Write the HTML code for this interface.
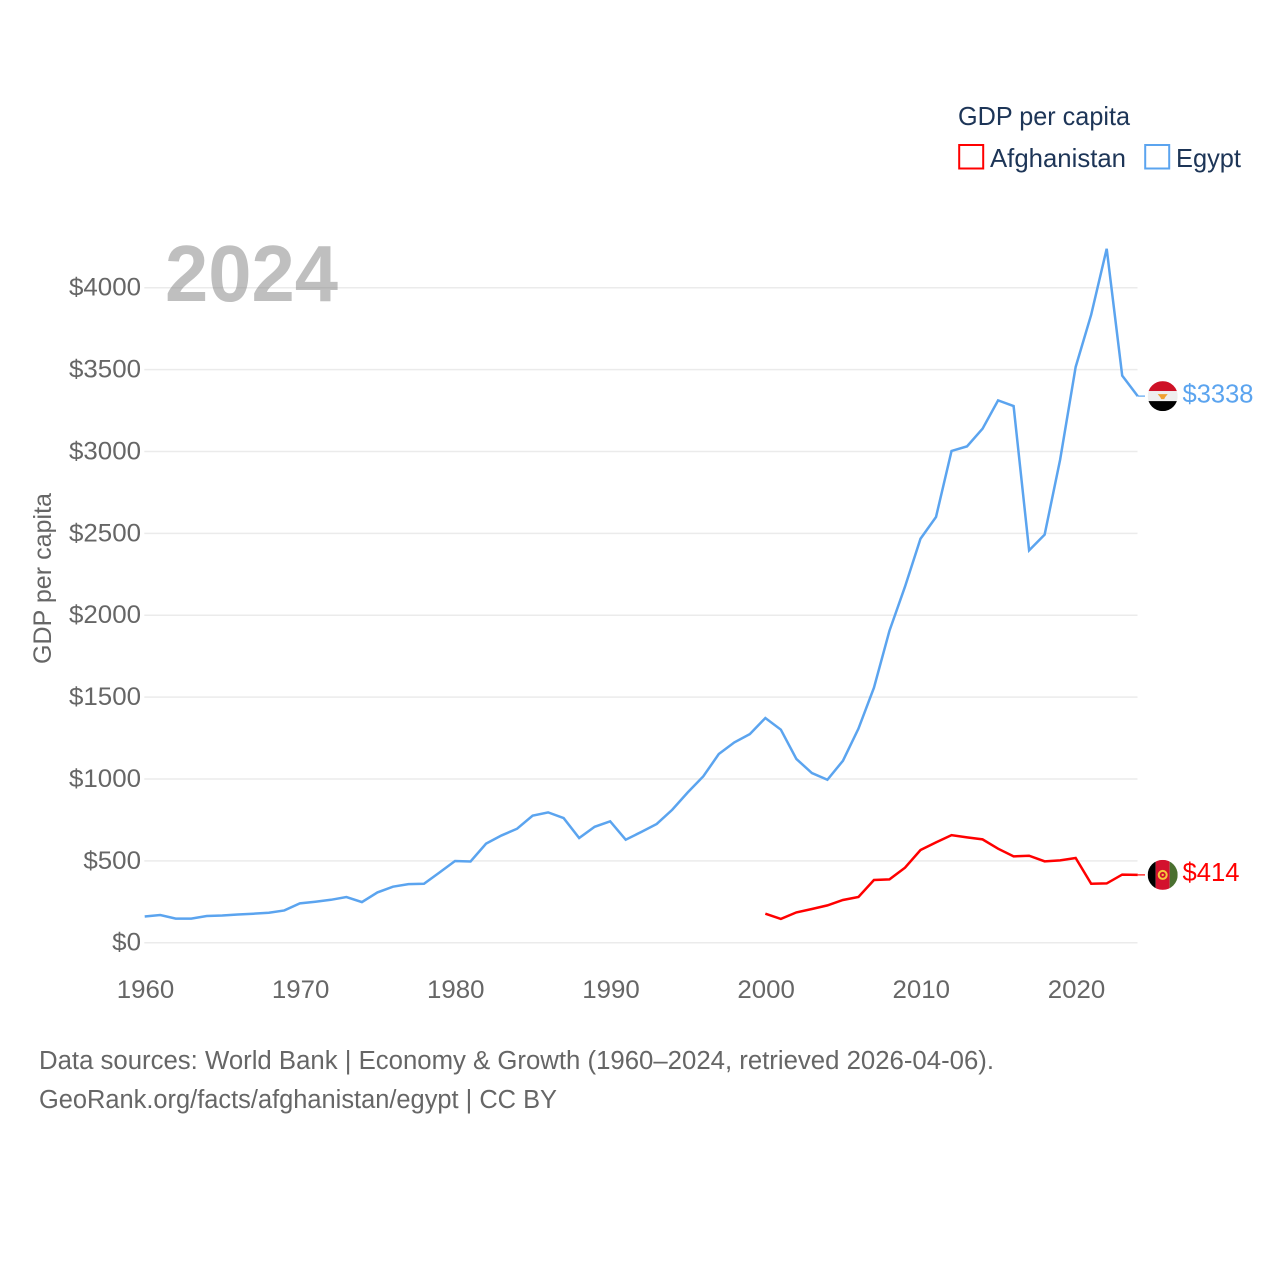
<!DOCTYPE html>
<html lang="en">
<head>
<meta charset="utf-8">
<title>GDP per capita: Afghanistan and Egypt</title>
<style>
html,body{margin:0;padding:0;background:#fff;}
svg{display:block;font-family:"Liberation Sans",sans-serif;}
</style>
</head>
<body>
<svg id="chart" xmlns="http://www.w3.org/2000/svg" width="1280" height="1280" viewBox="0 0 1280 1280">
  <defs>
    <clipPath id="flag-clip"><circle cx="0" cy="0" r="15"/></clipPath>
  </defs>
  <rect x="0" y="0" width="1280" height="1280" fill="#fff"/>
  <g id="grid"></g>
  <g id="y-ticks"></g>
  <g id="x-ticks"></g>
  <text transform="translate(51 664) rotate(-90)" font-size="25" fill="#666" textLength="171" lengthAdjust="spacingAndGlyphs">GDP per capita</text>
  <text x="165" y="301" font-size="80" font-weight="700" fill="#808080" fill-opacity="0.5" textLength="173" lengthAdjust="spacingAndGlyphs">2024</text>
  <g id="series"></g>
  <g id="end-labels"></g>

  <g>
    <text x="958" y="125" font-size="26" fill="#1d3557" textLength="172" lengthAdjust="spacingAndGlyphs">GDP per capita</text>
    <g>
      <rect x="959.2" y="145" width="24" height="23.5" fill="none" stroke="#ff0000" stroke-width="2"/>
      <text x="990" y="167" font-size="26" fill="#1d3557" textLength="136" lengthAdjust="spacingAndGlyphs">Afghanistan</text>
    </g>
    <g>
      <rect x="1145.2" y="145" width="24" height="23.5" fill="none" stroke="#5ba4ef" stroke-width="2"/>
      <text x="1176" y="167" font-size="26" fill="#1d3557" textLength="65" lengthAdjust="spacingAndGlyphs">Egypt</text>
    </g>
  </g>

  <text x="39" y="1069" font-size="25.5" fill="#666" textLength="955" lengthAdjust="spacingAndGlyphs">Data sources: World Bank | Economy &amp; Growth (1960–2024, retrieved 2026-04-06).</text>
  <text x="39" y="1108" font-size="25.5" fill="#666" textLength="518" lengthAdjust="spacingAndGlyphs">GeoRank.org/facts/afghanistan/egypt | CC BY</text>
</svg>
<script>
const yTickValues = [0, 500, 1000, 1500, 2000, 2500, 3000, 3500, 4000];
const xTickYears = [1960, 1970, 1980, 1990, 2000, 2010, 2020];
const egyptStartYear = 1960;
const egyptValues = [160,169,147,147,163,166,172,177,183,197,240,250,262,279,248,307,342,358,360,429,499,496,605,655,696,776,796,761,639,708,741,629,676,725,812,918,1016,1152,1223,1274,1372,1301,1122,1036,995,1111,1307,1557,1905,2174,2467,2600,3003,3031,3139,3312,3277,2396,2492,2950,3516,3835,4238,3463,3338];
const afghanStartYear = 2000;
const afghanValues = [177,145,185,206,228,261,279,383,387,458,566,613,657,643,631,574,527,531,497,503,517,360,362,416,414];

const NS = 'http://www.w3.org/2000/svg';
const xScale = function (year) { return 144.7 + (year - 1960) * 15.516; };
const yScale = function (value) { return 942.7 - value * 0.16375; };
const byId = function (id) { return document.getElementById(id); };

function make(tag, attrs) {
  const el = document.createElementNS(NS, tag);
  Object.keys(attrs).forEach(function (k) { el.setAttribute(k, attrs[k]); });
  return el;
}

yTickValues.forEach(function (v) {
  const line = make('line', {x1: 144.3, x2: 1137.5, y1: yScale(v), y2: yScale(v), stroke: '#ebebeb', 'stroke-width': 1.5});
  
  
  byId('grid').appendChild(line);

  const label = '$' + v;
  const t = make('text', {x: 141, y: yScale(v) + 8, 'text-anchor': 'end', 'font-size': 25, fill: '#666', textLength: label.length * 14.4, lengthAdjust: 'spacingAndGlyphs'});
  
  
  t.textContent = label;
  byId('y-ticks').appendChild(t);
});

xTickYears.forEach(function (year) {
  const t = make('text', {x: xScale(year) + 0.8, y: 998, 'text-anchor': 'middle', 'font-size': 25, fill: '#666', textLength: 57.5, lengthAdjust: 'spacingAndGlyphs'});
  
  
  t.textContent = String(year);
  byId('x-ticks').appendChild(t);
});

function seriesPoints(startYear, values) {
  return values.map(function (v, i) {
    return xScale(startYear + i).toFixed(2) + ',' + yScale(v).toFixed(2);
  }).join(' ');
}

const egyptLine = make('polyline', {points: seriesPoints(egyptStartYear, egyptValues), fill: 'none', stroke: '#5ba4ef', 'stroke-width': 2.5, 'stroke-linejoin': 'miter'});


byId('series').appendChild(egyptLine);

const afghanLine = make('polyline', {points: seriesPoints(afghanStartYear, afghanValues), fill: 'none', stroke: '#ff0000', 'stroke-width': 2.5, 'stroke-linejoin': 'miter'});


byId('series').appendChild(afghanLine);

const endX = xScale(2024);
const egyptEndY = yScale(egyptValues[egyptValues.length - 1]);
const afghanEndY = yScale(afghanValues[afghanValues.length - 1]);

const egyptConnector = make('line', {x1: endX, x2: 1145, y1: egyptEndY, y2: egyptEndY, stroke: '#5ba4ef', 'stroke-width': 1.2});


byId('end-labels').appendChild(egyptConnector);

const afghanConnector = make('line', {x1: endX, x2: 1145, y1: afghanEndY, y2: afghanEndY, stroke: '#ff0000', 'stroke-width': 1.2});


byId('end-labels').appendChild(afghanConnector);

const egyptFlag = make('g', {transform: 'translate(1162.7 ' + egyptEndY + ')', 'clip-path': 'url(#flag-clip)'});


egyptFlag.innerHTML = '<rect x="-15" y="-15" width="30" height="10" fill="#ce1126"/><rect x="-15" y="-5" width="30" height="10" fill="#eeeeee"/><rect x="-15" y="5" width="30" height="10" fill="#000"/><path d="M-5,-2 L5,-2 L2.5,1 L1.5,3 L-1.5,3 L-2.5,1 Z" fill="#f0a030"/>';
byId('end-labels').appendChild(egyptFlag);

const afghanFlag = make('g', {transform: 'translate(1162.7 ' + afghanEndY + ')', 'clip-path': 'url(#flag-clip)'});


afghanFlag.innerHTML = '<rect x="-15" y="-15" width="8" height="30" fill="#000"/><rect x="-7" y="-15" width="14" height="30" fill="#d3112e"/><rect x="7" y="-15" width="8" height="30" fill="#4a7030"/><circle cx="0" cy="0" r="4" fill="none" stroke="#f5c83c" stroke-width="2"/><circle cx="0" cy="0" r="1.2" fill="#f5c83c"/>';
byId('end-labels').appendChild(afghanFlag);

const egyptValueLabel = make('text', {x: 1182.5, y: egyptEndY + 6.5, 'font-size': 26, fill: '#5ba4ef', textLength: 71, lengthAdjust: 'spacingAndGlyphs'});


egyptValueLabel.textContent = '$' + egyptValues[egyptValues.length - 1];
byId('end-labels').appendChild(egyptValueLabel);

const afghanValueLabel = make('text', {x: 1182.5, y: afghanEndY + 6.2, 'font-size': 26, fill: '#ff0000', textLength: 57, lengthAdjust: 'spacingAndGlyphs'});


afghanValueLabel.textContent = '$' + afghanValues[afghanValues.length - 1];
byId('end-labels').appendChild(afghanValueLabel);
</script>
</body>
</html>
